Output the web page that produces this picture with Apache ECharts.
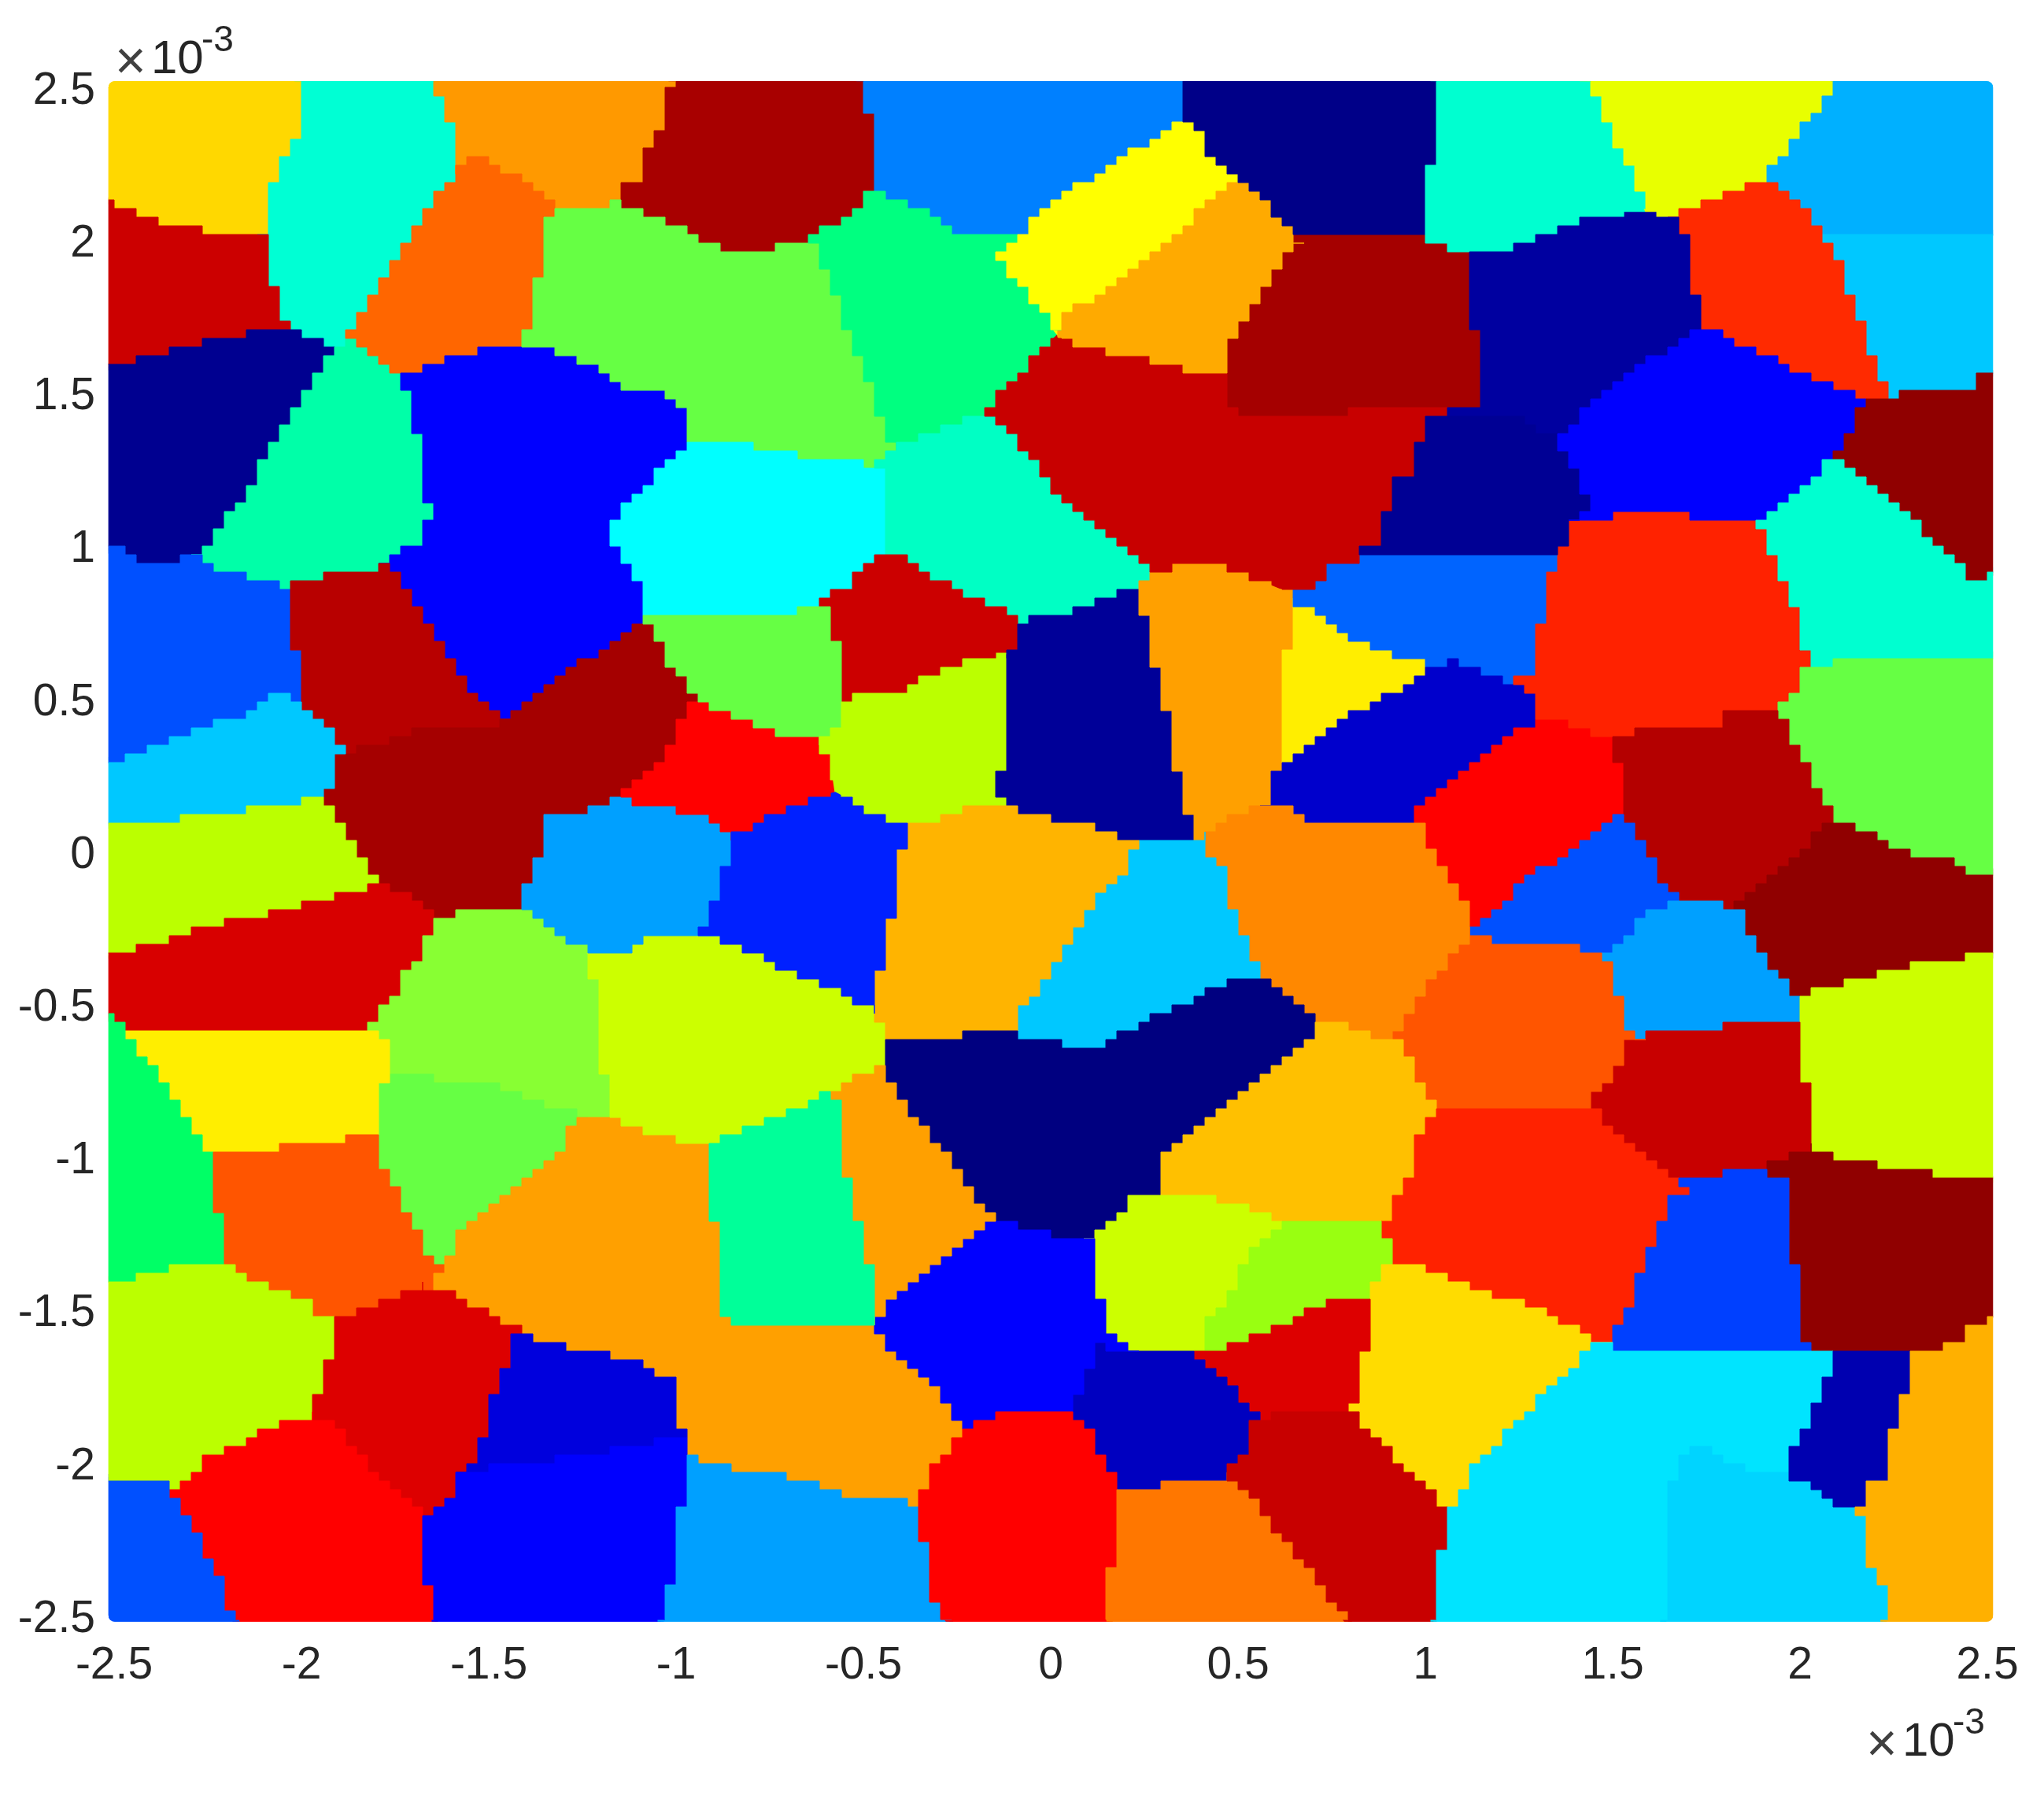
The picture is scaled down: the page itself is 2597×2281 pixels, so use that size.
<!DOCTYPE html>
<html>
<head>
<meta charset="utf-8">
<script src="https://cdn.jsdelivr.net/npm/echarts@6/dist/echarts.min.js"></script>
<style>html,body{margin:0;padding:0;background:#fff}#c{width:2597px;height:2281px}</style>
</head>
<body>
<div id="c"></div>
<script>
// Tick labels (axis units: 1e-3)
const tickMin = -2.5, tickMax = 2.5, tickStep = 0.5;
const exponentParts = ['×', '10', '-3'];
// Extent of the marker cloud, which runs a little past the axis limits
const cloudX = [-2.515, 2.515], cloudY = [-2.52, 2.52];

// Grain outlines, in axis units, and their jet colours (same order)
const grains = [
[[-2.52,2.52],[-2.01,2.52],[-2.01,2.35],[-2.08,2.18],[-2.08,2.02],[-2.23,2.02],[-2.37,2.06],[-2.52,2.13]],
[[-2.01,2.52],[-1.64,2.52],[-1.63,2.44],[-1.58,2.33],[-1.58,2.23],[-1.68,2.07],[-1.81,1.81],[-1.88,1.68],[-1.91,1.63],[-1.95,1.67],[-2.04,1.72],[-2.08,1.87],[-2.08,1.98],[-2.11,2.02],[-2.08,2.02],[-2.08,2.18],[-2.01,2.35]],
[[-1.64,2.52],[-1.01,2.52],[-1.04,2.46],[-1.04,2.35],[-1.1,2.28],[-1.1,2.2],[-1.15,2.17],[-1.15,2.12],[-1.31,2.11],[-1.36,2.15],[-1.46,2.23],[-1.55,2.28],[-1.58,2.23],[-1.58,2.33],[-1.63,2.44]],
[[-1.01,2.52],[-.51,2.52],[-.51,2.46],[-.48,2.39],[-.48,2.15],[-.54,2.08],[-.62,2.03],[-.64,1.99],[-.74,1.98],[-.79,1.95],[-.85,1.96],[-.9,1.99],[-.98,2.03],[-1.07,2.08],[-1.15,2.12],[-1.15,2.17],[-1.1,2.2],[-1.1,2.28],[-1.04,2.35],[-1.04,2.46]],
[[-.51,2.52],[.36,2.52],[.36,2.39],[.18,2.26],[.02,2.13],[-.08,2.02],[-.24,2.02],[-.34,2.09],[-.46,2.15],[-.48,2.15],[-.48,2.39],[-.51,2.46]],
[[-2.52,2.13],[-2.37,2.06],[-2.23,2.02],[-2.11,2.02],[-2.08,1.98],[-2.08,1.87],[-2.04,1.72],[-2.07,1.71],[-2.2,1.68],[-2.31,1.65],[-2.44,1.61],[-2.48,1.585],[-2.52,1.585]],
[[-2.52,1.585],[-2.44,1.61],[-2.31,1.65],[-2.2,1.68],[-2.07,1.71],[-2.04,1.72],[-1.95,1.67],[-1.91,1.63],[-1.94,1.59],[-2.01,1.47],[-2.08,1.33],[-2.14,1.19],[-2.21,1.07],[-2.25,1.0],[-2.28,.98],[-2.31,.955],[-2.44,.955],[-2.48,.985],[-2.52,.985]],
[[-1.91,1.63],[-1.88,1.68],[-1.79,1.59],[-1.75,1.57],[-1.71,1.5],[-1.71,1.37],[-1.675,1.34],[-1.675,1.16],[-1.635,1.11],[-1.675,1.07],[-1.675,1.02],[-1.71,1.0],[-1.78,.94],[-1.81,.92],[-1.91,.915],[-1.95,.88],[-2.01,.88],[-2.04,.86],[-2.06,.88],[-2.13,.89],[-2.25,.93],[-2.28,.98],[-2.25,1.0],[-2.21,1.07],[-2.14,1.19],[-2.08,1.33],[-2.01,1.47],[-1.94,1.59]],
[[-1.88,1.68],[-1.81,1.81],[-1.68,2.07],[-1.58,2.23],[-1.55,2.28],[-1.46,2.23],[-1.36,2.15],[-1.31,2.11],[-1.35,2.05],[-1.35,1.89],[-1.38,1.875],[-1.38,1.72],[-1.41,1.70],[-1.41,1.66],[-1.51,1.645],[-1.61,1.61],[-1.72,1.56],[-1.75,1.57],[-1.79,1.59]],
[[-1.72,1.56],[-1.61,1.61],[-1.51,1.645],[-1.41,1.66],[-1.36,1.65],[-1.28,1.61],[-1.22,1.58],[-1.15,1.52],[-1.05,1.52],[-.98,1.44],[-.97,1.35],[-.97,1.33],[-1.04,1.26],[-1.08,1.19],[-1.15,1.11],[-1.18,1.03],[-1.11,.9],[-1.08,.78],[-1.08,.75],[-1.2,.65],[-1.28,.6],[-1.38,.5],[-1.45,.42],[-1.52,.49],[-1.6,.62],[-1.68,.78],[-1.75,.9],[-1.78,.94],[-1.71,1.0],[-1.675,1.02],[-1.675,1.07],[-1.635,1.11],[-1.675,1.16],[-1.675,1.34],[-1.71,1.37],[-1.71,1.5],[-1.75,1.57]],
[[-1.31,2.11],[-1.15,2.12],[-1.07,2.08],[-.98,2.03],[-.9,1.99],[-.85,1.96],[-.79,1.95],[-.74,1.98],[-.64,1.99],[-.62,1.97],[-.58,1.85],[-.54,1.7],[-.495,1.57],[-.45,1.41],[-.42,1.32],[-.48,1.26],[-.54,1.29],[-.67,1.29],[-.74,1.32],[-.83,1.33],[-.9,1.35],[-.97,1.35],[-.98,1.44],[-1.05,1.52],[-1.15,1.52],[-1.22,1.58],[-1.28,1.61],[-1.36,1.65],[-1.41,1.66],[-1.41,1.70],[-1.38,1.72],[-1.38,1.875],[-1.35,1.89],[-1.35,2.05]],
[[-.64,1.99],[-.62,2.03],[-.54,2.08],[-.48,2.15],[-.46,2.15],[-.34,2.09],[-.24,2.02],[-.08,2.02],[-.14,1.94],[.018,1.704],[-.033,1.62],[-.11,1.54],[-.17,1.44],[-.22,1.41],[-.42,1.32],[-.45,1.41],[-.495,1.57],[-.54,1.7],[-.58,1.85],[-.62,1.97]],
[[-.97,1.35],[-.9,1.35],[-.83,1.33],[-.74,1.32],[-.67,1.29],[-.54,1.29],[-.48,1.26],[-.44,1.24],[-.44,1.01],[-.43,.98],[-.48,.94],[-.54,.87],[-.62,.81],[-.7,.78],[-1.08,.78],[-1.11,.9],[-1.18,1.03],[-1.15,1.11],[-1.08,1.19],[-1.04,1.26],[-.97,1.33]],
[[-.42,1.32],[-.22,1.41],[-.17,1.44],[-.03,1.26],[.02,1.16],[.13,1.05],[.29,.91],[.24,.86],[.19,.85],[.09,.79],[-.03,.78],[-.08,.75],[-.16,.81],[-.29,.88],[-.43,.98],[-.44,1.01],[-.44,1.24],[-.48,1.26]],
[[-.43,.98],[-.29,.88],[-.16,.81],[-.08,.75],[-.1,.65],[-.17,.64],[-.24,.61],[-.34,.57],[-.41,.52],[-.51,.51],[-.53,.49],[-.57,.49],[-.57,.62],[-.58,.77],[-.62,.81],[-.54,.87],[-.48,.94]],
[[-2.52,.985],[-2.48,.985],[-2.44,.955],[-2.31,.955],[-2.28,.98],[-2.25,.93],[-2.13,.89],[-2.06,.88],[-2.04,.86],[-2.04,.7],[-2.01,.65],[-2.01,.5],[-2.07,.51],[-2.12,.47],[-2.17,.44],[-2.25,.41],[-2.31,.37],[-2.38,.35],[-2.44,.315],[-2.49,.29],[-2.52,.3]],
[[-2.04,.86],[-2.01,.88],[-1.95,.88],[-1.91,.915],[-1.81,.92],[-1.78,.94],[-1.75,.9],[-1.68,.78],[-1.6,.62],[-1.52,.49],[-1.45,.42],[-1.52,.41],[-1.7,.39],[-1.78,.35],[-1.875,.325],[-1.94,.42],[-2.01,.5],[-2.01,.65],[-2.04,.7]],
[[-1.875,.325],[-1.78,.35],[-1.7,.39],[-1.52,.41],[-1.45,.42],[-1.38,.5],[-1.28,.6],[-1.2,.65],[-1.08,.75],[-1.03,.64],[-.945,.49],[-.97,.455],[-1.0,.39],[-1.04,.29],[-1.105,.22],[-1.15,.18],[-1.25,.135],[-1.35,.11],[-1.35,0],[-1.38,-.02],[-1.38,-.08],[-1.41,-.115],[-1.41,-.18],[-1.57,-.187],[-1.64,-.23],[-1.65,-.2],[-1.76,-.115],[-1.80,-.115],[-1.80,-.08],[-1.845,-.005],[-1.91,.126],[-1.94,.176],[-1.91,.21],[-1.91,.31]],
[[-2.52,.3],[-2.49,.29],[-2.44,.315],[-2.38,.35],[-2.31,.37],[-2.25,.41],[-2.17,.44],[-2.12,.47],[-2.07,.51],[-2.01,.5],[-1.94,.42],[-1.875,.325],[-1.91,.31],[-1.91,.21],[-1.94,.176],[-2.07,.15],[-2.31,.11],[-2.31,.085],[-2.52,.085]],
[[-2.52,.085],[-2.31,.085],[-2.31,.11],[-2.07,.15],[-1.94,.176],[-1.91,.126],[-1.845,-.005],[-1.80,-.08],[-1.80,-.115],[-1.84,-.123],[-1.94,-.155],[-2.04,-.187],[-2.15,-.22],[-2.25,-.25],[-2.34,-.284],[-2.45,-.316],[-2.47,-.348],[-2.52,-.34]],
[[-2.52,-.34],[-2.47,-.348],[-2.45,-.316],[-2.34,-.284],[-2.25,-.25],[-2.15,-.22],[-2.04,-.187],[-1.94,-.155],[-1.84,-.123],[-1.80,-.115],[-1.76,-.115],[-1.65,-.2],[-1.64,-.23],[-1.64,-.276],[-1.68,-.292],[-1.68,-.348],[-1.71,-.364],[-1.74,-.437],[-1.74,-.485],[-1.78,-.493],[-1.78,-.533],[-1.81,-.557],[-1.81,-.582],[-2.47,-.582],[-2.52,-.541]],
[[-1.64,-.23],[-1.57,-.187],[-1.41,-.18],[-1.38,-.195],[-1.31,-.276],[-1.24,-.324],[-1.22,-.42],[-1.2,-.66],[-1.18,-.79],[-1.18,-.855],[-1.24,-.87],[-1.43,-.79],[-1.52,-.75],[-1.68,-.74],[-1.77,-.73],[-1.77,-.62],[-1.81,-.582],[-1.81,-.557],[-1.78,-.533],[-1.78,-.493],[-1.74,-.485],[-1.74,-.437],[-1.71,-.364],[-1.68,-.348],[-1.68,-.292],[-1.64,-.276]],
[[-1.77,-.73],[-1.68,-.74],[-1.52,-.75],[-1.43,-.79],[-1.24,-.87],[-1.28,-.9],[-1.31,-1.0],[-1.395,-1.065],[-1.475,-1.145],[-1.555,-1.226],[-1.59,-1.274],[-1.61,-1.346],[-1.66,-1.346],[-1.68,-1.274],[-1.72,-1.193],[-1.74,-1.113],[-1.78,-1.03],[-1.8,-.97],[-1.8,-.84]],
[[-2.47,-.582],[-1.81,-.582],[-1.77,-.62],[-1.77,-.73],[-1.8,-.84],[-1.8,-.92],[-1.876,-.92],[-1.876,-.944],[-2.045,-.952],[-2.045,-.984],[-2.25,-.984],[-2.28,-.936],[-2.34,-.807],[-2.4,-.71]],
[[-2.52,-.541],[-2.47,-.582],[-2.4,-.71],[-2.34,-.807],[-2.28,-.936],[-2.25,-.984],[-2.25,-1.145],[-2.21,-1.21],[-2.21,-1.346],[-2.31,-1.354],[-2.47,-1.4],[-2.52,-1.4]],
[[-2.25,-.984],[-2.045,-.984],[-2.045,-.952],[-1.876,-.944],[-1.876,-.92],[-1.8,-.92],[-1.8,-.97],[-1.78,-1.03],[-1.74,-1.113],[-1.72,-1.193],[-1.68,-1.274],[-1.66,-1.346],[-1.61,-1.346],[-1.64,-1.387],[-1.636,-1.435],[-1.68,-1.42],[-1.75,-1.46],[-1.81,-1.49],[-1.876,-1.515],[-1.91,-1.548],[-1.95,-1.515],[-2.0,-1.467],[-2.07,-1.435],[-2.14,-1.403],[-2.21,-1.346],[-2.21,-1.21],[-2.25,-1.145]],
[[-2.52,-1.4],[-2.47,-1.4],[-2.31,-1.354],[-2.21,-1.346],[-2.14,-1.403],[-2.07,-1.435],[-2.0,-1.467],[-1.95,-1.515],[-1.91,-1.548],[-1.91,-1.644],[-1.94,-1.66],[-1.94,-1.773],[-1.973,-1.789],[-1.973,-1.845],[-2.07,-1.886],[-2.14,-1.926],[-2.246,-1.982],[-2.28,-2.022],[-2.342,-2.087],[-2.382,-2.047],[-2.52,-2.047]],
[[-1.636,-1.435],[-1.64,-1.387],[-1.61,-1.346],[-1.59,-1.274],[-1.555,-1.226],[-1.475,-1.145],[-1.395,-1.065],[-1.31,-1.0],[-1.28,-.9],[-1.24,-.87],[-1.17,-.87],[-1.105,-.904],[-1.01,-.936],[-.913,-.968],[-.905,-1.209],[-.873,-1.258],[-.873,-1.507],[-.833,-1.548],[-.479,-1.548],[-.415,-1.644],[-.335,-1.725],[-.279,-1.805],[-.238,-1.886],[-.254,-1.95],[-.31,-2.014],[-.343,-2.095],[-.351,-2.151],[-.423,-2.119],[-.544,-2.111],[-.656,-2.055],[-.784,-2.022],[-.897,-2.014],[-.969,-1.982],[-1.009,-1.894],[-1.009,-1.725],[-1.138,-1.66],[-1.25,-1.628],[-1.33,-1.612],[-1.403,-1.58],[-1.491,-1.523],[-1.571,-1.467]],
[[-1.24,-.324],[-1.074,-.316],[-1.074,-.284],[-.881,-.284],[-.833,-.316],[-.704,-.388],[-.624,-.429],[-.544,-.477],[-.479,-.517],[-.447,-.573],[-.447,-.71],[-.544,-.775],[-.592,-.791],[-.704,-.855],[-.784,-.895],[-.849,-.928],[-.913,-.968],[-1.01,-.936],[-1.105,-.904],[-1.17,-.87],[-1.18,-.855],[-1.18,-.79],[-1.2,-.66],[-1.22,-.42]],
[[-1.35,.11],[-1.25,.135],[-1.15,.18],[-1.06,.143],[-.945,.126],[-.84,.05],[-.84,-.02],[-.873,-.058],[-.873,-.115],[-.905,-.163],[-.905,-.227],[-.945,-.26],[-.881,-.284],[-1.074,-.284],[-1.074,-.316],[-1.24,-.324],[-1.31,-.276],[-1.38,-.195],[-1.41,-.18],[-1.41,-.115],[-1.38,-.08],[-1.38,-.02],[-1.35,0]],
[[-1.15,.18],[-1.105,.22],[-1.04,.29],[-1.0,.39],[-.97,.455],[-.945,.49],[-.85,.44],[-.74,.39],[-.67,.39],[-.616,.36],[-.576,.258],[-.576,.184],[-.656,.16],[-.744,.11],[-.84,.05],[-.945,.126],[-1.06,.143]],
[[-1.08,.78],[-.7,.78],[-.62,.81],[-.58,.77],[-.57,.62],[-.57,.42],[-.616,.36],[-.67,.39],[-.74,.39],[-.85,.44],[-.945,.49],[-1.03,.64],[-1.08,.75]],
[[-.57,.49],[-.53,.49],[-.51,.51],[-.41,.52],[-.34,.57],[-.24,.61],[-.17,.64],[-.11,.64],[-.11,.28],[-.142,.27],[-.142,.19],[-.094,.135],[-.206,.143],[-.27,.11],[-.383,.085],[-.463,.11],[-.568,.19],[-.576,.258],[-.616,.36],[-.57,.42]],
[[-.08,.75],[-.03,.78],[.09,.79],[.19,.85],[.222,.85],[.255,.75],[.263,.636],[.296,.586],[.296,.47],[.325,.42],[.325,.29],[.361,.225],[.361,.143],[.394,.028],[.23,.028],[.132,.077],[.051,.085],[-.03,.126],[-.094,.135],[-.142,.19],[-.142,.27],[-.11,.28],[-.11,.64],[-.1,.65]],
[[.222,.85],[.287,.907],[.361,.94],[.434,.956],[.492,.915],[.573,.874],[.655,.849],[.655,.668],[.622,.644],[.622,.282],[.59,.241],[.59,.143],[.557,.143],[.49,.11],[.418,.06],[.394,.028],[.361,.143],[.361,.225],[.325,.29],[.325,.42],[.296,.47],[.296,.586],[.263,.636],[.255,.75]],
[[.655,.82],[.753,.734],[.883,.652],[1.03,.603],[.99,.57],[.892,.504],[.769,.422],[.688,.34],[.622,.282],[.622,.644],[.655,.668]],
[[.655,.849],[.753,.931],[.835,.984],[1.357,.984],[1.357,.923],[1.324,.899],[1.324,.759],[1.292,.742],[1.292,.586],[1.259,.578],[1.243,.55],[1.186,.57],[1.08,.62],[1.03,.603],[.883,.652],[.753,.734],[.655,.82]],
[[1.03,.603],[1.08,.62],[1.186,.57],[1.243,.55],[1.292,.504],[1.292,.422],[1.226,.373],[1.128,.274],[1.047,.192],[.981,.143],[.957,.085],[.688,.085],[.647,.135],[.557,.143],[.59,.143],[.59,.241],[.622,.282],[.688,.34],[.769,.422],[.892,.504],[.99,.57]],
[[1.292,.422],[1.357,.422],[1.496,.373],[1.496,.34],[1.529,.225],[1.529,.126],[1.504,.11],[1.406,.028],[1.39,-.018],[1.3,-.066],[1.21,-.163],[1.153,-.227],[1.132,-.251],[1.096,-.15],[1.022,-.018],[.99,.077],[.957,.085],[.981,.143],[1.047,.192],[1.128,.274],[1.226,.373]],
[[1.39,1.087],[1.684,1.115],[1.716,1.087],[1.888,1.083],[1.92,.981],[1.961,.882],[1.994,.767],[2.027,.612],[1.994,.586],[1.994,.521],[1.929,.48],[1.953,.447],[1.79,.447],[1.782,.414],[1.651,.414],[1.52,.381],[1.496,.373],[1.357,.422],[1.292,.422],[1.292,.504],[1.243,.55],[1.259,.578],[1.292,.586],[1.292,.742],[1.324,.759],[1.324,.899],[1.357,.923],[1.357,.984],[1.39,1.03]],
[[.655,2.016],[.998,2.016],[1.12,1.95],[1.125,1.695],[1.153,1.687],[1.153,1.457],[1.055,1.454],[.524,1.421],[.475,1.457],[.459,1.552],[.459,1.613],[.492,1.687],[.524,1.753],[.557,1.819],[.598,1.884],[.622,1.942],[.663,1.983]],
[[-.033,1.62],[.026,1.687],[.051,1.654],[.157,1.646],[.165,1.621],[.255,1.613],[.279,1.589],[.361,1.58],[.369,1.552],[.459,1.552],[.475,1.457],[.524,1.421],[1.055,1.454],[1.055,1.425],[.99,1.408],[.99,1.35],[.957,1.342],[.957,1.227],[.924,1.21],[.924,1.12],[.892,1.104],[.892,1.022],[.859,1.005],[.835,.984],[.818,.956],[.753,.94],[.72,.882],[.688,.857],[.655,.849],[.59,.882],[.54,.89],[.459,.931],[.434,.956],[.361,.94],[.29,.91],[.13,1.05],[.02,1.16],[-.03,1.26],[-.17,1.44],[-.11,1.54]],
[[.36,2.39],[.394,2.36],[.402,2.31],[.459,2.245],[.5,2.19],[.41,2.106],[.32,2.0],[.247,1.934],[.149,1.835],[.083,1.786],[.026,1.737],[.018,1.704],[-.14,1.94],[-.08,2.02],[.02,2.13],[.18,2.26]],
[[.5,2.19],[.59,2.098],[.655,2.032],[.663,1.983],[.622,1.942],[.598,1.884],[.557,1.819],[.524,1.753],[.492,1.687],[.459,1.613],[.459,1.552],[.369,1.552],[.361,1.58],[.279,1.589],[.255,1.613],[.165,1.621],[.157,1.646],[.051,1.654],[.026,1.687],[.026,1.737],[.083,1.786],[.149,1.835],[.247,1.934],[.32,2.0],[.41,2.106]],
[[.36,2.52],[1.022,2.52],[1.022,2.262],[.99,2.246],[.99,2.04],[.998,2.016],[.655,2.016],[.655,2.032],[.59,2.098],[.5,2.19],[.459,2.245],[.402,2.31],[.394,2.36],[.36,2.39]],
[[1.022,2.52],[1.422,2.52],[1.463,2.443],[1.496,2.344],[1.545,2.23],[1.594,2.098],[1.488,2.082],[1.39,2.049],[1.324,2.016],[1.226,1.983],[1.21,1.953],[1.08,1.953],[1.022,1.991],[.99,2.04],[.99,2.246],[1.022,2.262]],
[[1.422,2.52],[2.092,2.52],[2.059,2.443],[1.994,2.353],[1.953,2.279],[1.92,2.246],[1.92,2.188],[1.855,2.172],[1.79,2.147],[1.724,2.114],[1.651,2.082],[1.594,2.098],[1.545,2.23],[1.496,2.344],[1.463,2.443]],
[[2.092,2.52],[2.515,2.52],[2.515,2.024],[2.059,2.024],[2.027,2.082],[1.92,2.188],[1.92,2.246],[1.953,2.279],[1.994,2.353],[2.059,2.443]],
[[2.059,2.024],[2.515,2.024],[2.515,1.564],[2.459,1.552],[2.459,1.52],[2.255,1.52],[2.255,1.49],[2.231,1.49],[2.198,1.589],[2.157,1.737],[2.125,1.852],[2.092,1.95]],
[[1.651,2.082],[1.724,2.114],[1.79,2.147],[1.855,2.172],[1.92,2.188],[2.027,2.082],[2.059,2.024],[2.092,1.95],[2.125,1.852],[2.157,1.737],[2.198,1.589],[2.231,1.49],[2.141,1.49],[2.092,1.523],[1.994,1.564],[1.929,1.621],[1.831,1.663],[1.79,1.704],[1.724,1.712],[1.724,1.819],[1.692,1.852],[1.692,2.016]],
[[1.12,1.95],[1.21,1.953],[1.226,1.983],[1.324,2.016],[1.39,2.049],[1.488,2.082],[1.651,2.082],[1.692,2.016],[1.692,1.852],[1.724,1.819],[1.724,1.712],[1.602,1.605],[1.471,1.506],[1.357,1.35],[1.226,1.424],[1.055,1.425],[1.055,1.454],[1.153,1.457],[1.153,1.687],[1.125,1.695]],
[[1.055,1.425],[1.226,1.424],[1.357,1.35],[1.44,1.13],[1.39,1.087],[1.39,1.03],[1.357,.984],[.835,.984],[.859,1.005],[.892,1.022],[.892,1.104],[.924,1.12],[.924,1.21],[.957,1.227],[.957,1.342],[.99,1.35],[.99,1.408]],
[[1.724,1.712],[1.79,1.704],[1.831,1.663],[1.929,1.621],[1.994,1.564],[2.092,1.523],[2.141,1.49],[2.19,1.48],[2.157,1.44],[2.157,1.38],[2.125,1.367],[2.125,1.326],[2.092,1.293],[2.059,1.252],[1.994,1.178],[1.953,1.129],[1.888,1.083],[1.716,1.087],[1.684,1.115],[1.39,1.087],[1.44,1.13],[1.357,1.35],[1.471,1.506],[1.602,1.605]],
[[2.19,1.48],[2.231,1.49],[2.255,1.49],[2.255,1.52],[2.459,1.52],[2.459,1.552],[2.515,1.564],[2.515,.915],[2.484,.882],[2.45,.899],[2.402,.964],[2.287,1.096],[2.174,1.211],[2.092,1.293],[2.125,1.326],[2.125,1.367],[2.157,1.38],[2.157,1.44]],
[[2.059,1.252],[2.092,1.293],[2.174,1.211],[2.287,1.096],[2.402,.964],[2.45,.899],[2.484,.882],[2.515,.915],[2.515,.644],[2.385,.636],[2.027,.612],[1.994,.767],[1.961,.882],[1.92,.981],[1.888,1.083],[1.953,1.129],[1.994,1.178]],
[[2.027,.612],[2.385,.636],[2.515,.644],[2.515,-.066],[2.467,-.074],[2.386,-.018],[2.296,-.018],[2.223,.044],[2.092,.094],[2.084,.143],[2.035,.208],[2.035,.258],[1.994,.324],[1.97,.406],[1.953,.447],[1.929,.48],[1.994,.521],[1.994,.586]],
[[1.496,.373],[1.52,.381],[1.651,.414],[1.782,.414],[1.79,.447],[1.953,.447],[1.97,.406],[1.994,.324],[2.035,.258],[2.035,.208],[2.084,.143],[2.092,.094],[2.03,.044],[1.994,-.018],[1.88,-.115],[1.831,-.179],[1.70,-.171],[1.667,-.155],[1.618,-.082],[1.618,-.018],[1.586,0],[1.529,.126],[1.529,.225],[1.496,.34]],
[[1.994,-.018],[2.03,.044],[2.092,.094],[2.223,.044],[2.296,-.018],[2.386,-.018],[2.467,-.074],[2.515,-.066],[2.515,-.34],[2.353,-.356],[2.255,-.388],[2.157,-.42],[2.059,-.453],[1.994,-.485],[1.961,-.42],[1.896,-.34],[1.847,-.243],[1.831,-.179],[1.88,-.115]],
[[1.504,.11],[1.529,.126],[1.586,0],[1.618,-.018],[1.618,-.082],[1.667,-.155],[1.594,-.211],[1.496,-.316],[1.48,-.348],[1.422,-.316],[1.202,-.316],[1.153,-.284],[1.128,-.26],[1.132,-.251],[1.153,-.227],[1.21,-.163],[1.3,-.066],[1.39,-.018],[1.406,.028]],
[[1.667,-.155],[1.70,-.171],[1.831,-.179],[1.847,-.243],[1.896,-.34],[1.961,-.42],[1.994,-.485],[1.994,-.549],[1.79,-.549],[1.79,-.582],[1.618,-.59],[1.577,-.614],[1.529,-.565],[1.52,-.485],[1.496,-.404],[1.48,-.348],[1.496,-.316],[1.594,-.211]],
[[1.994,-.485],[2.059,-.453],[2.157,-.42],[2.255,-.388],[2.353,-.356],[2.515,-.34],[2.515,-1.073],[2.361,-1.081],[2.345,-1.048],[2.223,-1.04],[2.206,-1.016],[2.092,-1.008],[2.076,-.984],[2.027,-.968],[2.018,-.751],[1.994,-.71],[1.994,-.549]],
[[1.529,-.617],[1.577,-.614],[1.618,-.59],[1.79,-.582],[1.79,-.549],[1.994,-.549],[1.994,-.71],[2.018,-.751],[2.027,-.968],[1.929,-1.016],[1.912,-1.048],[1.782,-1.048],[1.782,-1.081],[1.684,-1.081],[1.577,-.984],[1.496,-.904],[1.455,-.852],[1.455,-.791],[1.488,-.759],[1.488,-.726],[1.52,-.71]],
[[1.128,-.26],[1.153,-.284],[1.202,-.316],[1.422,-.316],[1.48,-.348],[1.496,-.404],[1.52,-.485],[1.529,-.565],[1.577,-.614],[1.529,-.617],[1.52,-.71],[1.488,-.726],[1.488,-.759],[1.455,-.791],[1.455,-.852],[1.03,-.852],[1.014,-.815],[.965,-.694],[.924,-.606],[.965,-.5],[1.03,-.412],[1.063,-.356],[1.12,-.28]],
[[.418,.06],[.49,.11],[.557,.143],[.647,.135],[.688,.085],[.957,.085],[.99,.077],[1.022,-.018],[1.096,-.15],[1.132,-.251],[1.128,-.26],[1.12,-.28],[1.063,-.356],[1.03,-.412],[.965,-.5],[.924,-.606],[.859,-.606],[.753,-.557],[.72,-.565],[.639,-.477],[.59,-.42],[.557,-.404],[.524,-.292],[.492,-.211],[.459,-.123],[.459,-.058],[.418,-.018]],
[[.23,.028],[.394,.028],[.418,.06],[.418,-.018],[.459,-.058],[.459,-.123],[.492,-.211],[.524,-.292],[.557,-.404],[.426,-.453],[.385,-.493],[.32,-.517],[.255,-.549],[.222,-.582],[.157,-.622],[.14,-.649],[.034,-.649],[.01,-.622],[-.08,-.614],[-.08,-.517],[-.031,-.45],[-.007,-.388],[.051,-.292],[.091,-.227],[.132,-.147],[.19,-.082]],
[[-.383,.085],[-.27,.11],[-.206,.143],[-.094,.135],[-.03,.126],[.051,.085],[.132,.077],[.23,.028],[.19,-.082],[.132,-.147],[.091,-.227],[.051,-.292],[-.007,-.388],[-.031,-.45],[-.08,-.517],[-.08,-.582],[-.206,-.582],[-.238,-.617],[-.439,-.617],[-.447,-.573],[-.479,-.517],[-.479,-.42],[-.447,-.396],[-.447,-.22],[-.407,-.211],[-.407,-.018],[-.375,.02]],
[[-.84,.05],[-.744,.11],[-.656,.16],[-.576,.184],[-.463,.11],[-.383,.085],[-.375,.02],[-.407,-.018],[-.407,-.211],[-.447,-.22],[-.447,-.396],[-.479,-.42],[-.479,-.517],[-.544,-.477],[-.624,-.429],[-.704,-.388],[-.833,-.316],[-.881,-.284],[-.945,-.26],[-.905,-.227],[-.905,-.163],[-.873,-.115],[-.873,-.058],[-.84,-.02]],
[[-.08,-.614],[.01,-.622],[.034,-.649],[.14,-.649],[.157,-.622],[.222,-.582],[.255,-.549],[.32,-.517],[.385,-.493],[.426,-.453],[.557,-.404],[.59,-.42],[.639,-.477],[.72,-.565],[.688,-.614],[.639,-.662],[.59,-.71],[.524,-.775],[.459,-.839],[.394,-.904],[.328,-.96],[.287,-.992],[.287,-1.121],[.23,-1.121],[.149,-1.226],[.10,-1.274],[-.033,-1.242],[-.142,-1.209],[-.206,-1.129],[-.238,-1.048],[-.303,-.968],[-.351,-.887],[-.415,-.791],[-.447,-.71],[-.439,-.617],[-.238,-.617],[-.206,-.582],[-.08,-.582]],
[[.72,-.565],[.753,-.557],[.859,-.606],[.924,-.606],[.965,-.694],[1.014,-.815],[1.03,-.852],[.998,-.887],[.965,-.984],[.957,-1.081],[.924,-1.129],[.924,-1.193],[.892,-1.217],[.622,-1.217],[.524,-1.161],[.345,-1.121],[.287,-1.121],[.287,-.992],[.328,-.96],[.394,-.904],[.459,-.839],[.524,-.775],[.59,-.71],[.639,-.662],[.688,-.614]],
[[1.03,-.852],[1.455,-.852],[1.496,-.904],[1.577,-.984],[1.684,-1.081],[1.692,-1.113],[1.659,-1.129],[1.659,-1.217],[1.627,-1.226],[1.627,-1.282],[1.594,-1.29],[1.594,-1.387],[1.561,-1.395],[1.561,-1.475],[1.529,-1.491],[1.529,-1.54],[1.496,-1.564],[1.488,-1.612],[1.422,-1.58],[1.324,-1.515],[1.226,-1.467],[1.112,-1.419],[1.03,-1.378],[.924,-1.346],[.924,-1.306],[.892,-1.258],[.892,-1.217],[.924,-1.193],[.924,-1.129],[.957,-1.081],[.965,-.984],[.998,-.887]],
[[1.929,-1.016],[2.027,-.968],[2.076,-.984],[2.092,-1.008],[2.206,-1.016],[2.223,-1.04],[2.345,-1.048],[2.361,-1.081],[2.515,-1.073],[2.515,-1.515],[2.451,-1.564],[2.419,-1.604],[2.361,-1.647],[2.027,-1.647],[1.994,-1.531],[1.994,-1.354],[1.958,-1.306],[1.958,-1.081],[1.912,-1.048]],
[[1.684,-1.081],[1.782,-1.081],[1.782,-1.048],[1.912,-1.048],[1.958,-1.081],[1.958,-1.306],[1.994,-1.354],[1.994,-1.531],[2.027,-1.647],[1.569,-1.647],[1.488,-1.612],[1.496,-1.564],[1.529,-1.54],[1.529,-1.491],[1.561,-1.475],[1.561,-1.395],[1.594,-1.387],[1.594,-1.29],[1.627,-1.282],[1.627,-1.226],[1.659,-1.217],[1.659,-1.129],[1.692,-1.113]],
[[.23,-1.121],[.345,-1.121],[.524,-1.161],[.622,-1.217],[.549,-1.29],[.492,-1.419],[.41,-1.564],[.394,-1.647],[.23,-1.647],[.157,-1.588],[.157,-1.5],[.124,-1.451],[.124,-1.322],[.10,-1.274],[.149,-1.226]],
[[.622,-1.217],[.892,-1.217],[.892,-1.258],[.924,-1.306],[.924,-1.346],[.875,-1.378],[.859,-1.451],[.794,-1.451],[.72,-1.491],[.655,-1.523],[.59,-1.564],[.524,-1.588],[.459,-1.628],[.426,-1.647],[.394,-1.647],[.41,-1.564],[.492,-1.419],[.549,-1.29]],
[[.924,-1.346],[1.03,-1.378],[1.112,-1.419],[1.226,-1.467],[1.324,-1.515],[1.422,-1.58],[1.488,-1.612],[1.422,-1.628],[1.414,-1.668],[1.373,-1.717],[1.324,-1.765],[1.275,-1.837],[1.226,-1.894],[1.169,-1.966],[1.112,-2.047],[1.096,-2.111],[1.055,-2.151],[1.014,-2.087],[.924,-1.99],[.875,-1.934],[.786,-1.821],[.826,-1.813],[.826,-1.652],[.859,-1.644],[.859,-1.451],[.875,-1.378]],
[[.394,-1.647],[.426,-1.647],[.459,-1.628],[.524,-1.588],[.59,-1.564],[.655,-1.523],[.72,-1.491],[.794,-1.451],[.859,-1.451],[.859,-1.644],[.826,-1.652],[.826,-1.813],[.786,-1.821],[.557,-1.853],[.492,-1.773],[.443,-1.709]],
[[.132,-1.62],[.23,-1.647],[.394,-1.647],[.443,-1.709],[.492,-1.773],[.557,-1.853],[.524,-1.894],[.524,-1.974],[.459,-2.022],[.459,-2.047],[.287,-2.055],[.287,-2.082],[.19,-2.082],[.157,-2.022],[.116,-1.926],[.059,-1.829],[.083,-1.765]],
[[-.142,-1.209],[-.033,-1.242],[.10,-1.274],[.124,-1.322],[.124,-1.451],[.157,-1.5],[.157,-1.588],[.23,-1.647],[.132,-1.62],[.083,-1.765],[.059,-1.829],[-.033,-1.821],[-.174,-1.853],[-.238,-1.886],[-.279,-1.805],[-.335,-1.725],[-.415,-1.644],[-.479,-1.548],[-.431,-1.483],[-.335,-1.387],[-.238,-1.29]],
[[-.495,-.718],[-.447,-.71],[-.415,-.791],[-.351,-.887],[-.303,-.968],[-.238,-1.048],[-.206,-1.129],[-.142,-1.209],[-.238,-1.29],[-.335,-1.387],[-.431,-1.483],[-.479,-1.548],[-.471,-1.515],[-.487,-1.338],[-.544,-1.065],[-.552,-.887],[-.576,-.791]],
[[-.592,-.791],[-.576,-.791],[-.552,-.887],[-.544,-1.065],[-.487,-1.338],[-.471,-1.515],[-.479,-1.548],[-.833,-1.548],[-.873,-1.507],[-.873,-1.258],[-.905,-1.209],[-.913,-.968],[-.849,-.928],[-.784,-.895],[-.704,-.855]],
[[-1.91,-1.548],[-1.876,-1.515],[-1.81,-1.49],[-1.75,-1.46],[-1.68,-1.42],[-1.636,-1.435],[-1.571,-1.467],[-1.491,-1.523],[-1.403,-1.58],[-1.443,-1.588],[-1.443,-1.676],[-1.475,-1.692],[-1.475,-1.781],[-1.507,-1.789],[-1.507,-1.91],[-1.539,-1.926],[-1.539,-2.014],[-1.58,-2.03],[-1.58,-2.111],[-1.636,-2.143],[-1.676,-2.175],[-1.764,-2.079],[-1.908,-1.886],[-1.973,-1.845],[-1.973,-1.789],[-1.94,-1.773],[-1.94,-1.66],[-1.91,-1.644]],
[[-2.342,-2.087],[-2.28,-2.022],[-2.246,-1.982],[-2.14,-1.926],[-2.07,-1.886],[-1.973,-1.845],[-1.908,-1.886],[-1.764,-2.079],[-1.676,-2.175],[-1.676,-2.4],[-1.644,-2.433],[-1.644,-2.52],[-2.174,-2.52],[-2.206,-2.449],[-2.206,-2.385],[-2.246,-2.336],[-2.278,-2.272],[-2.278,-2.232],[-2.31,-2.175],[-2.342,-2.111]],
[[-2.52,-2.047],[-2.382,-2.047],[-2.342,-2.087],[-2.342,-2.111],[-2.31,-2.175],[-2.278,-2.232],[-2.278,-2.272],[-2.246,-2.336],[-2.206,-2.385],[-2.206,-2.449],[-2.174,-2.52],[-2.52,-2.52]],
[[-1.403,-1.58],[-1.33,-1.612],[-1.25,-1.628],[-1.138,-1.66],[-1.009,-1.725],[-1.009,-1.894],[-.969,-1.91],[-1.26,-1.98],[-1.58,-2.03],[-1.539,-2.014],[-1.539,-1.926],[-1.507,-1.91],[-1.507,-1.789],[-1.475,-1.781],[-1.475,-1.692],[-1.443,-1.676],[-1.443,-1.588]],
[[-1.58,-2.03],[-1.26,-1.98],[-.969,-1.91],[-.969,-2.143],[-1.009,-2.159],[-1.009,-2.385],[-1.041,-2.433],[-1.041,-2.52],[-1.644,-2.52],[-1.644,-2.433],[-1.676,-2.4],[-1.676,-2.175],[-1.636,-2.143],[-1.58,-2.111]],
[[-.969,-1.982],[-.897,-2.014],[-.784,-2.022],[-.656,-2.055],[-.544,-2.111],[-.423,-2.119],[-.351,-2.151],[-.343,-2.256],[-.31,-2.385],[-.31,-2.449],[-.27,-2.52],[-1.041,-2.52],[-1.041,-2.433],[-1.009,-2.385],[-1.009,-2.159],[-.969,-2.143]],
[[-.238,-1.886],[-.174,-1.853],[-.033,-1.821],[.059,-1.829],[.116,-1.926],[.157,-2.022],[.19,-2.082],[.19,-2.352],[.157,-2.352],[.157,-2.52],[-.27,-2.52],[-.31,-2.449],[-.31,-2.385],[-.343,-2.256],[-.351,-2.151],[-.343,-2.095],[-.31,-2.014],[-.254,-1.95]],
[[.19,-2.082],[.287,-2.082],[.287,-2.055],[.459,-2.047],[.492,-2.03],[.524,-2.095],[.573,-2.175],[.622,-2.256],[.688,-2.352],[.737,-2.433],[.794,-2.52],[.157,-2.52],[.157,-2.352],[.19,-2.352]],
[[.557,-1.853],[.786,-1.821],[.875,-1.934],[.924,-1.99],[1.014,-2.087],[1.055,-2.151],[1.055,-2.28],[1.022,-2.288],[1.022,-2.52],[.794,-2.52],[.737,-2.433],[.688,-2.352],[.622,-2.256],[.573,-2.175],[.524,-2.095],[.459,-2.047],[.459,-2.022],[.524,-1.974],[.524,-1.894]],
[[1.422,-1.628],[1.488,-1.612],[1.569,-1.647],[2.084,-1.647],[2.084,-1.709],[2.059,-1.725],[2.059,-1.805],[2.027,-1.821],[2.027,-1.886],[1.994,-1.894],[1.994,-1.95],[1.958,-1.958],[1.958,-2.039],[1.847,-2.014],[1.733,-1.95],[1.667,-1.982],[1.635,-2.52],[1.022,-2.52],[1.022,-2.288],[1.055,-2.28],[1.055,-2.151],[1.096,-2.111],[1.112,-2.047],[1.169,-1.966],[1.226,-1.894],[1.275,-1.837],[1.324,-1.765],[1.373,-1.717],[1.414,-1.668]],
[[1.667,-1.982],[1.733,-1.95],[1.847,-2.014],[1.958,-2.039],[2.027,-2.079],[2.092,-2.151],[2.157,-2.151],[2.19,-2.224],[2.19,-2.352],[2.223,-2.40],[2.223,-2.52],[1.635,-2.52]],
[[2.084,-1.647],[2.288,-1.647],[2.288,-1.781],[2.255,-1.789],[2.255,-1.87],[2.223,-1.918],[2.223,-2.047],[2.19,-2.063],[2.19,-2.151],[2.092,-2.151],[2.027,-2.079],[1.958,-2.039],[1.958,-1.958],[1.994,-1.95],[1.994,-1.894],[2.027,-1.886],[2.027,-1.821],[2.059,-1.805],[2.059,-1.725],[2.084,-1.709]],
[[2.361,-1.647],[2.419,-1.604],[2.451,-1.564],[2.515,-1.515],[2.515,-2.52],[2.223,-2.52],[2.223,-2.40],[2.19,-2.352],[2.19,-2.224],[2.157,-2.151],[2.19,-2.151],[2.19,-2.063],[2.223,-2.047],[2.223,-1.918],[2.255,-1.87],[2.255,-1.789],[2.288,-1.781],[2.288,-1.647]]
];
const grainColors = [
'#ffd800','#00ffd4','#ff9900','#a80000','#0080ff','#cc0000','#000090','#00ffa8','#ff6600','#0000ff',
'#66ff44','#00ff80','#00ffff','#00ffc4','#cc0000','#0050ff','#b80000','#a50000','#00c8ff','#bbff00',
'#d80000','#88ff33','#66ff44','#ffee00','#00ff66','#ff5500','#bbff00','#ffa000','#ccff00','#00a0ff',
'#ff0000','#66ff44','#bbff00','#000098','#ffa000','#ffee00','#0064ff','#0000cc','#ff0000','#ff2200',
'#a50000','#c80000','#ffff00','#ffaa00','#000088','#00ffd0','#e8ff00','#00b0ff','#00c8ff','#ff2a00',
'#0000a0','#000094','#0000ff','#900000','#00ffd0','#66ff44','#b40000','#900000','#0050ff','#00a0ff',
'#ccff00','#c80000','#ff5500','#ff8800','#00c8ff','#ffb400','#0020ff','#000080','#ffc000','#ff2200',
'#900000','#0040ff','#ccff00','#99ff11','#ffdc00','#dd0000','#0000c0','#0000ff','#ffa000','#00ff99',
'#dd0000','#ff0000','#0050ff','#0000dd','#0000ff','#00a0ff','#ff0000','#ff7700','#c80000','#00e4ff',
'#00d4ff','#0000b0','#ffb000'
];

// Turn a polygon's pixel outline into the stepped edge of the original marker lattice
const cellW = 14, cellH = 11;
function stepped(pts, ox, oy) {
  const out = [];
  let last = null;
  const push = (p) => {
    if (last && last[0] === p[0] && last[1] === p[1]) return;
    if (last && last[0] !== p[0] && last[1] !== p[1]) {
      const hi = last[1] < p[1] ? last : p, lo = last[1] < p[1] ? p : last;
      out.push([lo[0], hi[1]]);
    }
    out.push(p); last = p;
  };
  for (let i = 0; i < pts.length; i++) {
    const a = pts[i], b = pts[(i + 1) % pts.length];
    const n = Math.max(1, Math.ceil(Math.hypot(b[0]-a[0], b[1]-a[1]) / 2));
    for (let k = 0; k < n; k++) {
      const x = a[0] + (b[0]-a[0]) * k / n, y = a[1] + (b[1]-a[1]) * k / n;
      push([ox + Math.round((x-ox)/cellW)*cellW, oy + Math.round((y-oy)/cellH)*cellH]);
    }
  }
  return out;
}

const chart = echarts.init(document.getElementById('c'), null, {renderer:'canvas', width:2597, height:2281});
const labelFont = {fontFamily:'"Liberation Sans", Arial, sans-serif', fontSize:57, color:'#262626'};
const axisCommon = {
  type:'value', min:tickMin, max:tickMax, interval:tickStep,
  axisLine:{show:false}, axisTick:{show:false}, splitLine:{show:false}
};
const grainData = grains.map((g, i) => [i]);
const drawGrain = (snap) => (params, api) => {
  const i = api.value(0);
  const cs = params.coordSys;
  const raw = grains[i].map(p => api.coord(p));
  const tl = api.coord([cloudX[0], cloudY[1]]), br = api.coord([cloudX[1], cloudY[0]]);
  return {
    type:'polygon',
    shape:{points: snap ? stepped(raw, cs.x, cs.y) : raw},
    style:{fill:grainColors[i], stroke:grainColors[i], lineWidth: snap ? 1 : 8},
    clipPath:{type:'rect', shape:{x:tl[0], y:tl[1], width:br[0]-tl[0], height:br[1]-tl[1], r:8}}
  };
};
const exp = (dx, dy) => [
  {type:'text', x:146+dx, y:81+dy, style:{text:exponentParts[0], font:'68px "Liberation Sans"', fill:'#404040', textAlign:'left', textVerticalAlign:'middle'}},
  {type:'text', x:192+dx, y:76+dy, style:{text:exponentParts[1], font:'60px "Liberation Sans"', fill:'#262626', textAlign:'left', textVerticalAlign:'middle'}},
  {type:'text', x:256+dx, y:52+dy, style:{text:exponentParts[2], font:'46px "Liberation Sans"', fill:'#262626', textAlign:'left', textVerticalAlign:'middle'}}
];
chart.setOption({
  animation:false,
  backgroundColor:'#ffffff',
  grid:{left:145, right:72, top:111, bottom:228, containLabel:false},
  xAxis:Object.assign({}, axisCommon, {axisLabel:Object.assign({margin:36}, labelFont)}),
  yAxis:Object.assign({}, axisCommon, {axisLabel:{
    margin:24,
    formatter:(v) => '{t|' + v + '}',
    rich:{t:Object.assign({padding:[10,0,0,0]}, labelFont)}
  }}),
  series:[
    {type:'custom', coordinateSystem:'cartesian2d', clip:false, silent:true, data:grainData, renderItem:drawGrain(false), encode:{}},
    {type:'custom', coordinateSystem:'cartesian2d', clip:false, silent:true, data:grainData, renderItem:drawGrain(true), encode:{}}
  ],
  graphic:{elements: exp(0,0).concat(exp(2225,2138))}
});
</script>
</body>
</html>
